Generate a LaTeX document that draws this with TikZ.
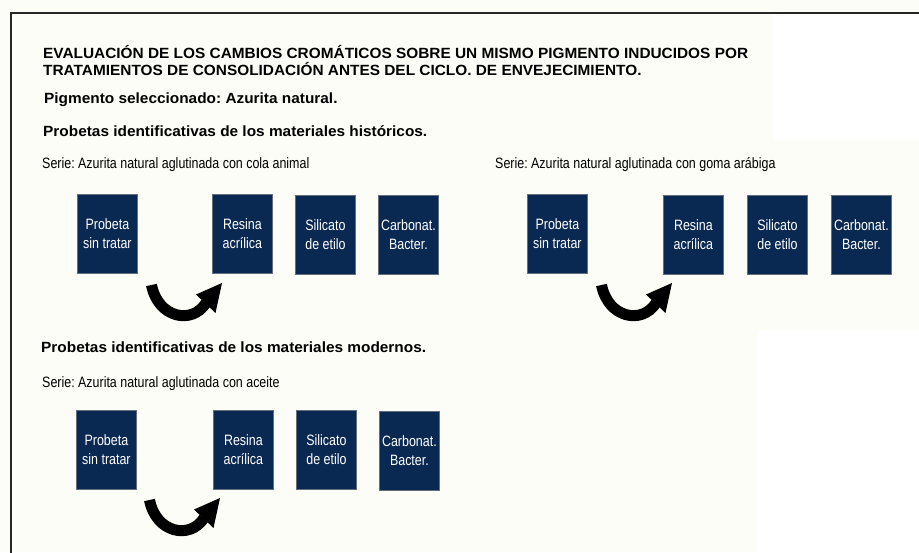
\documentclass[tikz,border=0pt]{standalone}
\usepackage{fontspec}
\setmainfont{Liberation Sans}
\newfontfamily\headfont[FakeStretch=1.04]{Liberation Sans}
\newfontfamily\narrowfont[FakeStretch=0.83]{Liberation Sans}
\definecolor{bgcream}{RGB}{253,253,247}
\definecolor{navy}{RGB}{10,41,82}
\definecolor{boxedge}{RGB}{100,110,125}
\frenchspacing
\tikzset{
  head/.style={anchor=base west, inner sep=0pt, font=\headfont\bfseries\fontsize{14.8}{16}\selectfont},
  serie/.style={anchor=base west, inner sep=0pt, font=\narrowfont\fontsize{15}{18}\selectfont},
  probe/.style={rectangle, fill=navy, draw=boxedge, line width=0.8pt,
    minimum width=60pt, minimum height=79pt, inner sep=0pt, anchor=north west,
    align=center, text=white, font=\narrowfont\fontsize{15}{19}\selectfont},
  curvarrow/.pic={
    \draw[line width=11pt] (0,0) .. controls (6.5,33) and (40.5,40) .. (54.5,18);
    \fill (70.5,-2) -- (44.5,9.5) -- (64,28) -- cycle;
  }
}
\begin{document}
\begin{tikzpicture}[x=1pt,y=-1pt]
\useasboundingbox (0,0) rectangle (919,552);
\fill[bgcream] (0,0) rectangle (919,552);
\fill[white] (773,14) rectangle (919,140);
\fill[white] (758,330) rectangle (919,552);
\draw[line width=2.5pt, black!85] (11,553) -- (11,13) -- (920,13);

% headings
\node[head] (t1) at (43,58) {EVALUACIÓN DE LOS CAMBIOS CROMÁTICOS SOBRE UN MISMO PIGMENTO INDUCIDOS POR};
\node[head] (t2) at (43,75) {TRATAMIENTOS DE CONSOLIDACIÓN ANTES DEL CICLO. DE ENVEJECIMIENTO.};
\node[head] (pig) at (44,103) {Pigmento seleccionado: Azurita natural.};
\node[head] (hist) at (43,136) {Probetas identificativas de los materiales históricos.};
\node[head] (mod) at (41,352) {Probetas identificativas de los materiales modernos.};

% series
\node[serie] (s1) at (42,168) {Serie: Azurita natural aglutinada con cola animal};
\node[serie] (s2) at (495,168) {Serie: Azurita natural aglutinada con goma arábiga};
\node[serie] (s3) at (42,387) {Serie: Azurita natural aglutinada con aceite};

% row 1 left
\node[probe] (a1) at (77,194) {Probeta\\sin tratar};
\node[probe] (a2) at (212,194) {Resina\\acrílica};
\node[probe] (a3) at (295,195) {Silicato\\de etilo};
\node[probe] (a4) at (378,195) {Carbonat.\\Bacter.};
% row 1 right
\node[probe] (b1) at (527,194) {Probeta\\sin tratar};
\node[probe] (b2) at (663,195) {Resina\\acrílica};
\node[probe] (b3) at (747,195) {Silicato\\de etilo};
\node[probe] (b4) at (831,195) {Carbonat.\\Bacter.};
% row 2
\node[probe] (c1) at (76,410) {Probeta\\sin tratar};
\node[probe] (c2) at (213,410) {Resina\\acrílica};
\node[probe] (c3) at (296,410) {Silicato\\de etilo};
\node[probe] (c4) at (379,411) {Carbonat.\\Bacter.};

% curved arrows
\pic at (151.5,285) {curvarrow};
\pic at (601.5,285) {curvarrow};
\pic at (149.5,500) {curvarrow};
\end{tikzpicture}
\end{document}
